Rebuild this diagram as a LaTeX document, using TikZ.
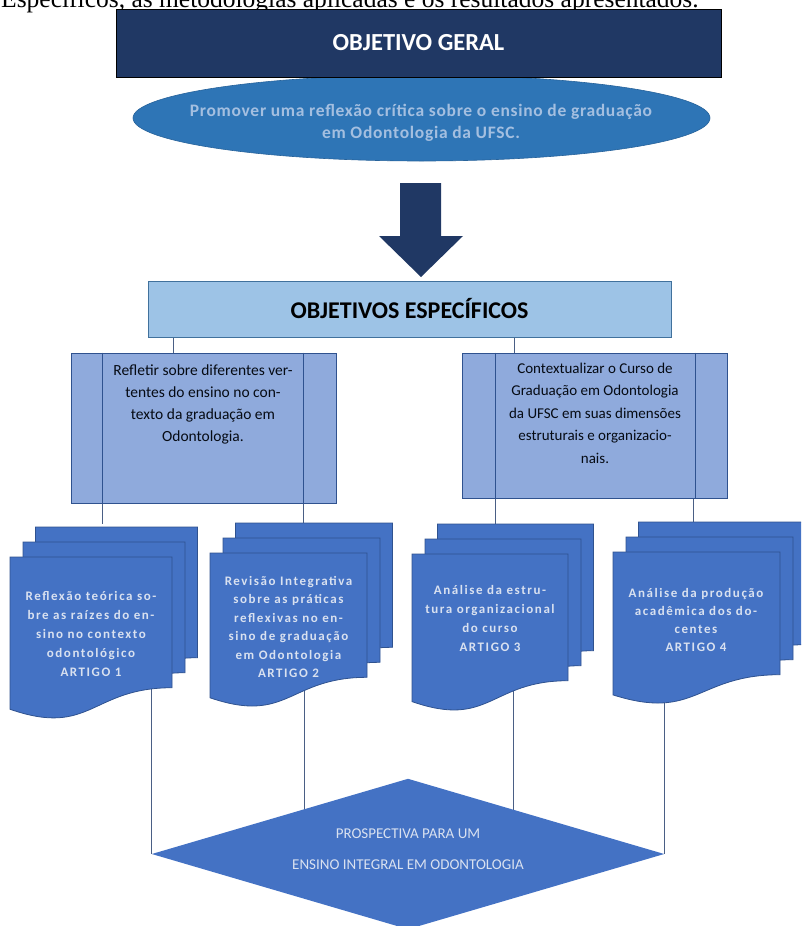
\documentclass[tikz,border=0pt]{standalone}
\usepackage{fontspec}
\setmainfont{Liberation Serif}
\newfontfamily\calfont{Carlito}
\newfontfamily\calspaced{Carlito}[LetterSpace=12]
\newfontfamily\calwide{Carlito}[LetterSpace=4]
\usepackage{tikz}
\usetikzlibrary{shapes.geometric}
\definecolor{navy}{HTML}{203864}
\definecolor{midblue}{HTML}{2E75B6}
\definecolor{paleblue}{HTML}{9DC3E6}
\definecolor{lilac}{HTML}{8FAADC}
\definecolor{docblue}{HTML}{4472C4}
\definecolor{docedge}{HTML}{2F528F}
\definecolor{boxedge}{HTML}{41719C}
\definecolor{wirecol}{HTML}{4A5F85}
\definecolor{softtxt}{HTML}{D9E1F0}
\definecolor{promotxt}{HTML}{A4BFE0}
\tikzset{
    wire/.style={draw=wirecol,line width=1pt},
    docu/.style={fill=docblue,draw=docedge,line width=0.8pt},
    objbox/.style={rectangle,fill=lilac,draw=docedge,line width=1pt,inner sep=0pt},
    objtxt/.style={align=center,text=black!80!navy,font=\calfont\fontsize{15.5}{22}\selectfont},
    doctxt/.style={align=center,text=softtxt,inner sep=0pt,font=\calspaced\bfseries\fontsize{13}{19}\selectfont}
}
\newcommand{\onedoc}[4]{\filldraw[docu](#1,#2)--({#1+#3},#2)--({#1+#3},{#2+0.802*#4})
    ..controls({#1+0.5*#3},{#2+0.802*#4})and({#1+0.5*#3},{#2+1.107*#4})..(#1,{#2+0.934*#4})--cycle;}
\newcommand{\multidoc}[4]{\onedoc{#1+25.5}{#2-30}{#3}{#4}\onedoc{#1+13}{#2-15}{#3}{#4}\onedoc{#1}{#2}{#3}{#4}}

\begin{document}
\begin{tikzpicture}[x=1pt,y=-1pt]
    \useasboundingbox(0,0)rectangle(801,926);
    \clip(0,0)rectangle(801,926);
    \node[anchor=base west,inner sep=0pt,font=\fontsize{25.5}{25.5}\selectfont](lead)at(1,8){Específicos, as metodologias aplicadas e os resultados apresentados.};

    \node[ellipse,fill=midblue,draw=midblue!85!black,line width=0.6pt,minimum width=577,minimum height=86,inner sep=0pt](promo)at(421.5,118){};
    \node[align=center,text=promotxt,font=\calwide\bfseries\fontsize{17.5}{22}\selectfont](promotxt)at(421,123){Promover uma reflexão crítica sobre o ensino de graduação\\em Odontologia da UFSC.};
    \node[rectangle,fill=navy,draw=black,line width=1pt,minimum width=605,minimum height=68,text=white,font=\calfont\bfseries\fontsize{24.5}{24.5}\selectfont](geral)at(418.5,43){OBJETIVO GERAL};

    \fill[navy](400,183)--(441,183)--(441,236)--(463,236)--(421,277)--(379,236)--(400,236)--cycle;

    \node[rectangle,fill=paleblue,draw=boxedge,line width=1pt,minimum width=523,minimum height=56,font=\calfont\bfseries\fontsize{24}{24}\selectfont](espec)at(409.5,309){OBJETIVOS ESPECÍFICOS};

    \node[objbox,minimum width=265,minimum height=150](obj1)at(203.5,428){};
    \node[objbox,minimum width=265,minimum height=145](obj2)at(594.5,425.5){};
    \draw[docedge,line width=1pt]([xshift=32]obj1.north west)--([xshift=32]obj1.south west);
    \draw[docedge,line width=1pt]([xshift=-33]obj1.north east)--([xshift=-33]obj1.south east);
    \draw[docedge,line width=1pt]([xshift=34]obj2.north west)--([xshift=34]obj2.south west);
    \draw[docedge,line width=1pt]([xshift=-32]obj2.north east)--([xshift=-32]obj2.south east);
    \node[objtxt](o1)at(203,404.5){Refletir sobre diferentes ver-\\tentes do ensino no con-\\texto da graduação em\\Odontologia.};
    \node[objtxt,font=\calfont\fontsize{15}{22.5}\selectfont](o2)at(595,413){Contextualizar o Curso de\\Graduação em Odontologia\\da UFSC em suas dimensões\\estruturais e organizacio-\\nais.};

    \draw[wire]([xshift=26]espec.south west)--([xshift=26]espec.south west|-obj1.north);
    \draw[wire]([xshift=-157]espec.south east)--([xshift=-157]espec.south east|-obj2.north);

    \coordinate(g1)at(60,524);
    \coordinate(g2)at(260,524);
    \coordinate(g3)at(460,524);
    \coordinate(g4)at(660,524);
    \draw[wire]([xshift=32]obj1.south west)--([xshift=32]obj1.south west|-g1);
    \draw[wire]([xshift=-33]obj1.south east)--([xshift=-33]obj1.south east|-g2);
    \draw[wire]([xshift=34]obj2.south west)--([xshift=34]obj2.south west|-g3);
    \draw[wire]([xshift=-34]obj2.south east)--([xshift=-34]obj2.south east|-g4);

    \node[diamond,minimum width=512,minimum height=150,aspect=3.4,inner sep=0pt](prosp)at(408,854){};
    \draw[wire](prosp.west|-0,650)--(prosp.west);
    \draw[wire](304,650)--(304,854);
    \draw[wire](513,650)--(513,854);
    \draw[wire](prosp.east|-0,650)--(prosp.east);
    \fill[docblue](prosp.north)--(prosp.east)--(prosp.south)--(prosp.west)--cycle;
    \node[align=center,text=softtxt,font=\calfont\fontsize{15}{31}\selectfont](ptxt)at(408,849){PROSPECTIVA PARA UM\\ENSINO INTEGRAL EM ODONTOLOGIA};

    \multidoc{10}{557}{162}{163}
    \multidoc{210}{553}{157}{155}
    \multidoc{412}{554}{156}{158}
    \multidoc{613}{552}{167}{153}
    \node[doctxt](t1)at(91,634){Reflexão teórica so-\\bre as raízes do en-\\sino no contexto\\odontológico\\ARTIGO 1};
    \node[doctxt,font=\calspaced\bfseries\fontsize{13}{18.5}\selectfont](t2)at(288.5,627){Revisão Integrativa\\sobre as práticas\\reflexivas no en-\\sino de graduação\\em Odontologia\\ARTIGO 2};
    \node[doctxt](t3)at(490,618){Análise da estru-\\tura organizacional\\do curso\\ARTIGO 3};
    \node[doctxt,font=\calspaced\bfseries\fontsize{13}{18}\selectfont](t4)at(696,620){Análise da produção\\acadêmica dos do-\\centes\\ARTIGO 4};
\end{tikzpicture}
\end{document}
